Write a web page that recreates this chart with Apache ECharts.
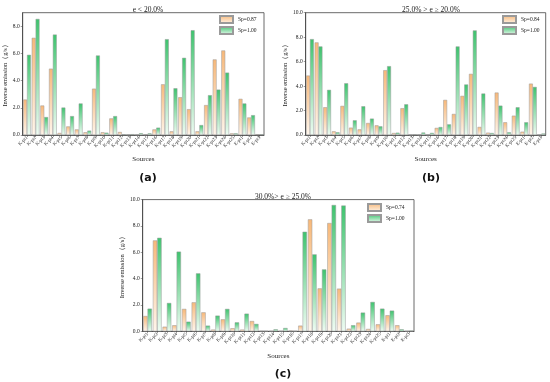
<!DOCTYPE html>
<html><head><meta charset="utf-8">
<script src="https://cdn.jsdelivr.net/npm/echarts@6/dist/echarts.min.js"></script>
<style>html,body{margin:0;padding:0;background:#fff}#c{width:550px;height:382px}</style>
</head><body><div id="c"></div>
<script>
const categories = ['K-pt1','K-pt2','K-pt3','K-pt4','K-pt5','K-pt6','K-pt7','K-pt8','K-pt9','K-pt10','K-pt11','K-pt12','K-pt13','K-pt14','K-pt15','K-pt16','K-pt17','K-pt18','K-pt19','K-pt20','K-pt21','K-pt22','K-pt23','K-pt24','K-pt25','E-pt1','E-pt2','E-pt3'];

const titleA = 'e < 20.0%';
const titleB = '25.0% > e ≥ 20.0%';
const titleC = '30.0%> e ≥ 25.0%';

const nameA1 = 'Sp=0.87', nameB1 = 'Sp=0.84', nameC1 = 'Sp=0.74', name2 = 'Sp=1.00';

const aOrange = [2.61,7.15,2.17,4.88,0.15,0.63,0.41,0.20,3.41,0.20,1.22,0.22,0.02,0.02,0.04,0.41,3.73,0.27,2.78,1.90,0.27,2.20,5.56,6.22,0.12,2.66,1.29,0.05];
const aGreen  = [5.90,8.54,1.32,7.39,2.02,1.39,2.32,0.32,5.85,0.17,1.39,0.05,0.06,0.13,0.12,0.54,7.05,3.44,5.68,7.71,0.73,2.93,3.34,4.59,0.12,2.32,1.46,0.05];

const bOrange = [4.86,7.57,2.27,0.30,2.38,0.60,0.46,0.98,0.79,5.30,0.16,2.19,0.02,0.02,0.02,0.58,2.87,1.72,3.20,5.00,0.66,0.19,3.47,1.04,1.58,0.27,4.20,0.01];
const bGreen  = [7.84,7.24,3.69,0.22,4.23,1.20,2.35,1.34,0.71,5.63,0.19,2.51,0.05,0.20,0.17,0.65,0.87,7.24,4.13,8.55,3.39,0.16,2.40,0.22,2.27,1.04,3.93,0.12];

const cOrange = [1.16,6.90,0.35,0.46,1.70,2.20,1.44,0.13,0.91,0.23,0.13,0.78,0.03,0.02,0.02,0.05,0.43,8.50,3.26,8.22,3.24,0.20,0.66,0.18,0.53,1.22,0.46,0.02];
const cGreen  = [1.72,7.10,2.15,6.05,0.73,4.40,0.43,1.19,1.70,0.68,1.34,0.56,0.02,0.15,0.25,0.02,7.56,5.84,4.70,9.59,9.55,0.46,1.42,2.23,1.72,1.57,0.15,0.05];

const yTicksA = {min:0,max:9,interval:2};
const yTicksB = {min:0,max:10,interval:2};
const yTicksC = {min:0,max:10,interval:2};

const FONT = 'Liberation Serif';
const orangeFill = {type:'linear',x:0,y:0,x2:0,y2:1,colorStops:[{offset:0,color:'#f7b879'},{offset:1,color:'#fff6ec'}]};
const greenFill  = {type:'linear',x:0,y:0,x2:0,y2:1,colorStops:[{offset:0,color:'#3ec36e'},{offset:1,color:'#effcf3'}]};

const grids = [
  {left:22.7, top:12.7, right:286, bottom:247},
  {left:305.7, top:12.7, right:4.3, bottom:247},
  {left:142.7, top:199.6, right:136, bottom:50.7}
];

function xAxis(i){
  return {type:'category', gridIndex:i, data:categories,
    name:'Sources', nameLocation:'middle', nameGap:21,
    nameTextStyle:{fontFamily:FONT,fontSize:7,color:'#222'},
    axisLine:{lineStyle:{color:'#444',width:0.8}},
    axisTick:{show:true,length:2,alignWithLabel:true,lineStyle:{color:'#444',width:0.5}},
    axisLabel:{rotate:45,fontFamily:FONT,fontSize:4.8,color:'#222',interval:0,margin:2}};
}
function yAxis(i,t){
  return {type:'value', gridIndex:i, min:t.min, max:t.max, interval:t.interval,
    name:'Inverse emission（g/s）', nameLocation:'middle', nameGap:13, nameRotate:90,
    nameTextStyle:{fontFamily:FONT,fontSize:6.5,color:'#222'},
    axisLine:{show:true,lineStyle:{color:'#444',width:0.8}},
    axisTick:{show:true,length:2,lineStyle:{color:'#444',width:0.5}},
    splitLine:{show:false},
    axisLabel:{fontFamily:FONT,fontSize:5.5,color:'#222',margin:3,showMaxLabel:t.max%t.interval===0,
      formatter:v=>v.toFixed(1)}};
}
function bar(name,data,i,fill){
  return {type:'bar',name:name,data:data,xAxisIndex:i,yAxisIndex:i,
    barGap:'0%',barCategoryGap:'10%',
    itemStyle:{color:fill,borderColor:'#9a9a9a',borderWidth:0.5},
    emphasis:{disabled:true}};
}
function legend(names,left,top){
  return {data:names,orient:'vertical',left:left,top:top,itemWidth:13,itemHeight:7,itemGap:2,icon:'rect',
    textStyle:{fontFamily:FONT,fontSize:5.5,color:'#222'},padding:0,selectedMode:false};
}

const option = {
  animation:false,
  grid: grids.map(g=>Object.assign({show:true,borderColor:'#444',borderWidth:0.8,backgroundColor:'transparent'},g)),
  title:[
    {text:titleA,left:143,top:1,textAlign:'center',textStyle:{fontFamily:FONT,fontSize:7.5,fontWeight:'normal',color:'#222'}},
    {text:titleB,left:426,top:1,textAlign:'center',textStyle:{fontFamily:FONT,fontSize:7.5,fontWeight:'normal',color:'#222'}},
    {text:titleC,left:278,top:188,textAlign:'center',textStyle:{fontFamily:FONT,fontSize:7.5,fontWeight:'normal',color:'#222'}},
    {text:'(a)',left:143,top:168,textAlign:'center',textStyle:{fontFamily:'DejaVu Sans',fontSize:11,fontWeight:'bold',color:'#111'}},
    {text:'(b)',left:426,top:168,textAlign:'center',textStyle:{fontFamily:'DejaVu Sans',fontSize:11,fontWeight:'bold',color:'#111'}},
    {text:'(c)',left:278,top:364,textAlign:'center',textStyle:{fontFamily:'DejaVu Sans',fontSize:11,fontWeight:'bold',color:'#111'}}
  ],
  legend:[
    legend([nameA1,name2],219,15),
    legend([nameB1,name2],502,15),
    legend([nameC1,name2],367,203)
  ],
  xAxis:[xAxis(0),xAxis(1),xAxis(2)],
  yAxis:[yAxis(0,yTicksA),yAxis(1,yTicksB),yAxis(2,yTicksC)],
  series:[
    bar(nameA1,aOrange,0,orangeFill), bar(name2,aGreen,0,greenFill),
    bar(nameB1,bOrange,1,orangeFill), bar(name2,bGreen,1,greenFill),
    bar(nameC1,cOrange,2,orangeFill), bar(name2,cGreen,2,greenFill)
  ]
};
const chart = echarts.init(document.getElementById('c'),null,{renderer:'canvas'});
chart.setOption(option);
</script></body></html>
